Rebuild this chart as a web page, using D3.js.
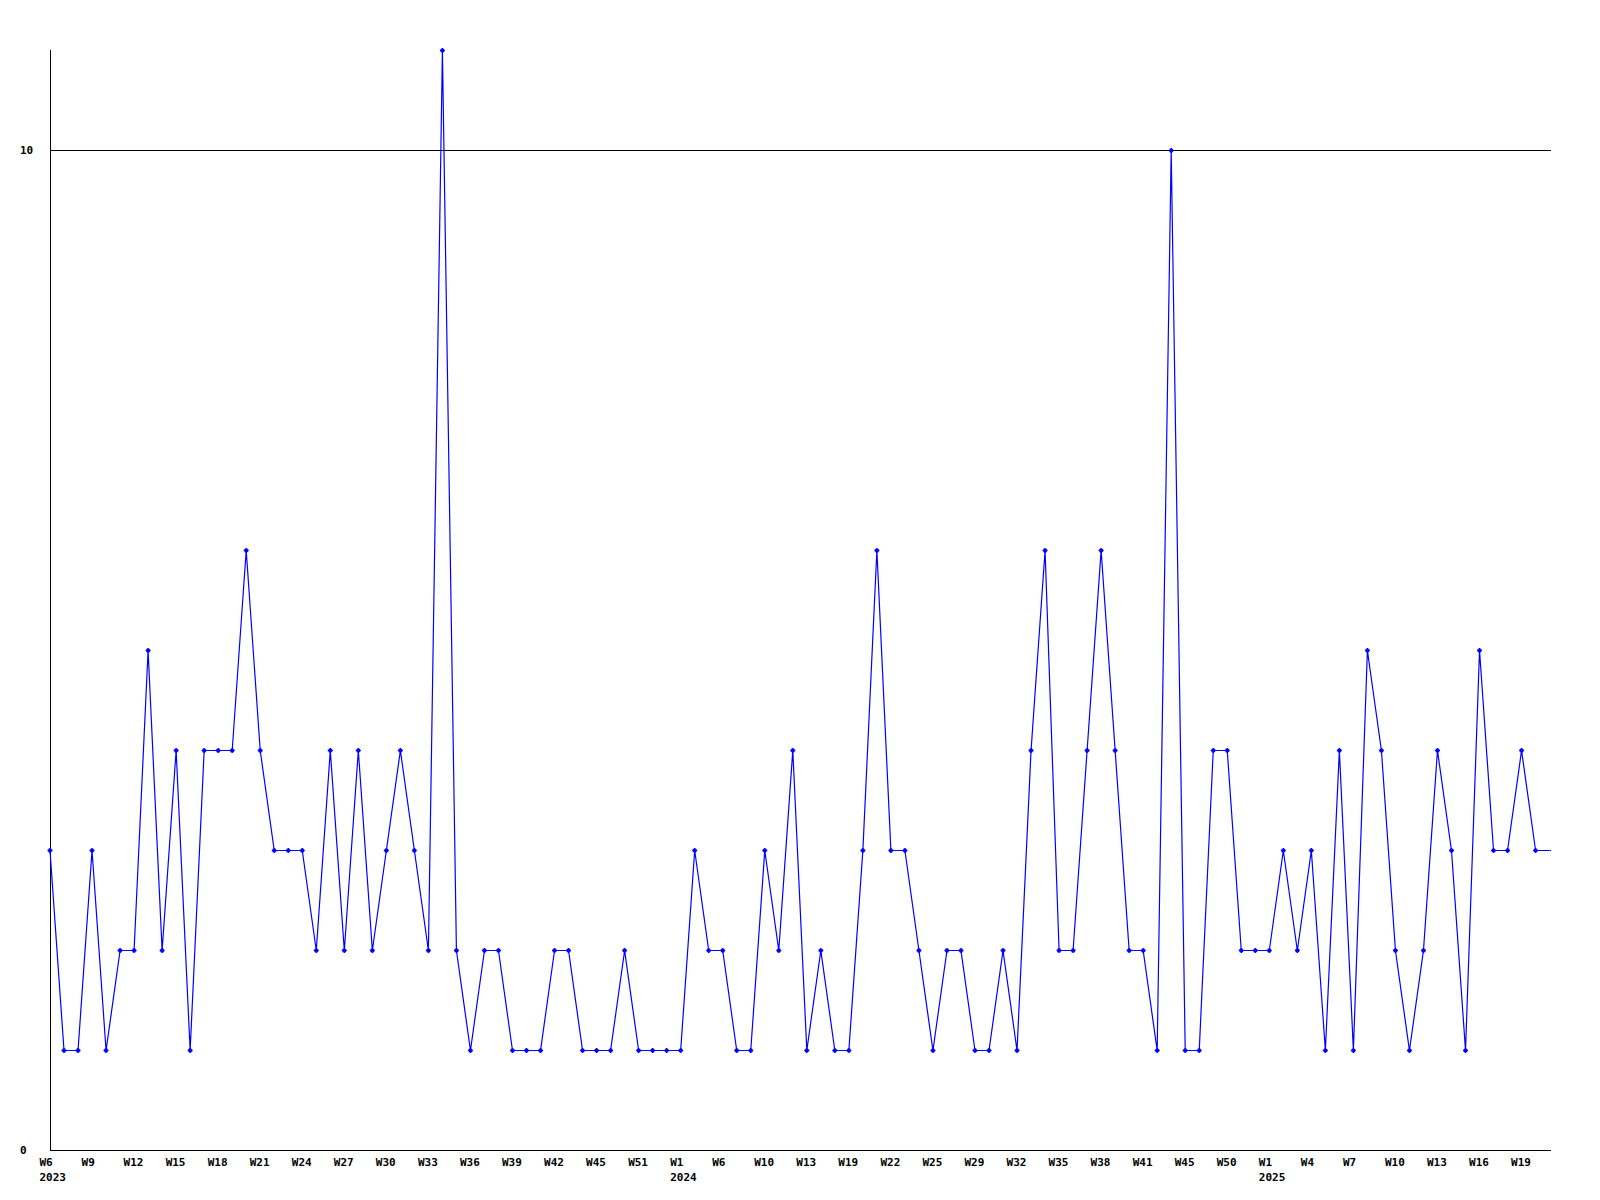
<!DOCTYPE html>
<html><head><meta charset="utf-8">
<script src="https://cdn.jsdelivr.net/npm/d3@7"></script>
<style>
html,body{margin:0;padding:0;background:#fff;}
svg text{font-family:"DejaVu Sans Mono","Liberation Mono",monospace;font-weight:bold;font-size:11px;fill:#000;}
</style></head>
<body><svg id="c" width="1600" height="1200"></svg>
<script>
// weekly values, 2023 W6 .. 2025 W21 (weeks with no value omitted)
const values = [3,1,1,3,1,2,2,5,2,4,1,4,4,4,6,4,3,3,3,2,4,2,4,2,3,4,3,2,11,2,
  1,2,2,1,1,1,2,2,1,1,1,2,1,1,1,1,3,2,2,1,1,3,2,4,1,2,1,1,3,6,
  3,3,2,1,2,2,1,1,2,1,4,6,2,2,4,6,4,2,2,1,10,1,1,4,4,2,2,2,3,2,
  3,1,4,1,5,4,2,1,2,4,3,1,5,3,3,4,3,3];
const tickLabels = ["W6","W9","W12","W15","W18","W21","W24","W27","W30","W33","W36","W39",
  "W42","W45","W51","W1","W6","W10","W13","W19","W22","W25","W29","W32","W35","W38",
  "W41","W45","W50","W1","W4","W7","W10","W13","W16","W19"];
const yearLabels = {0:"2023",15:"2024",29:"2025"};
const yTicks = [0,10];

const svg = d3.select("#c");
const x = d3.scaleLinear().domain([0, values.length-1]).range([50, 1549.6]);
const y = d3.scaleLinear().domain([0, 11]).range([1150, 50]);

// gridline at 10
svg.append("line").attr("x1",50).attr("x2",1551).attr("y1",y(10)+0.5).attr("y2",y(10)+0.5)
  .attr("stroke","#000").attr("stroke-width",1);
// axes
svg.append("line").attr("x1",50.5).attr("x2",50.5).attr("y1",y(11)).attr("y2",y(0)+1)
  .attr("stroke","#000");
svg.append("line").attr("x1",50).attr("x2",1551).attr("y1",y(0)+0.5).attr("y2",y(0)+0.5)
  .attr("stroke","#000");

// y labels
svg.selectAll("text.yl").data(yTicks).enter().append("text").attr("class","yl")
  .attr("x",20).attr("y",d=>y(d)+4).text(d=>d);

// x labels
svg.selectAll("text.xl").data(tickLabels).enter().append("text").attr("class","xl")
  .attr("x",(d,i)=>x(i*3)-10.5).attr("y",1166).text(d=>d);
svg.selectAll("text.yr").data(Object.keys(yearLabels)).enter().append("text").attr("class","yr")
  .attr("x",d=>x(+d*3)-10.5).attr("y",1181).text(d=>yearLabels[d]);

// line (last segment runs on to the plot edge)
const line = d3.line().x((d,i)=>x(i)).y(d=>y(d)+0.5);
svg.append("path").datum(values).attr("d",line).attr("fill","none")
  .attr("stroke","#0000ff").attr("stroke-width",1.2);
svg.append("line").attr("x1",x(values.length-1)).attr("x2",1551)
  .attr("y1",y(values[values.length-1])+0.5).attr("y2",y(values[values.length-1])+0.5)
  .attr("stroke","#0000ff").attr("stroke-width",1.2);

// markers (last point at the edge has no marker)
const mk = svg.append("g").attr("fill","none").attr("stroke","#0000ff");
mk.selectAll("path").data(values.slice(0,-1)).enter().append("path")
  .attr("transform",(d,i)=>`translate(${x(i)},${y(d)+0.5})`)
  .attr("d","M-2.5,0H2.5M0,-2.5V2.5M-1,-1H1V1H-1Z").attr("stroke-width",1.4);
</script></body></html>
